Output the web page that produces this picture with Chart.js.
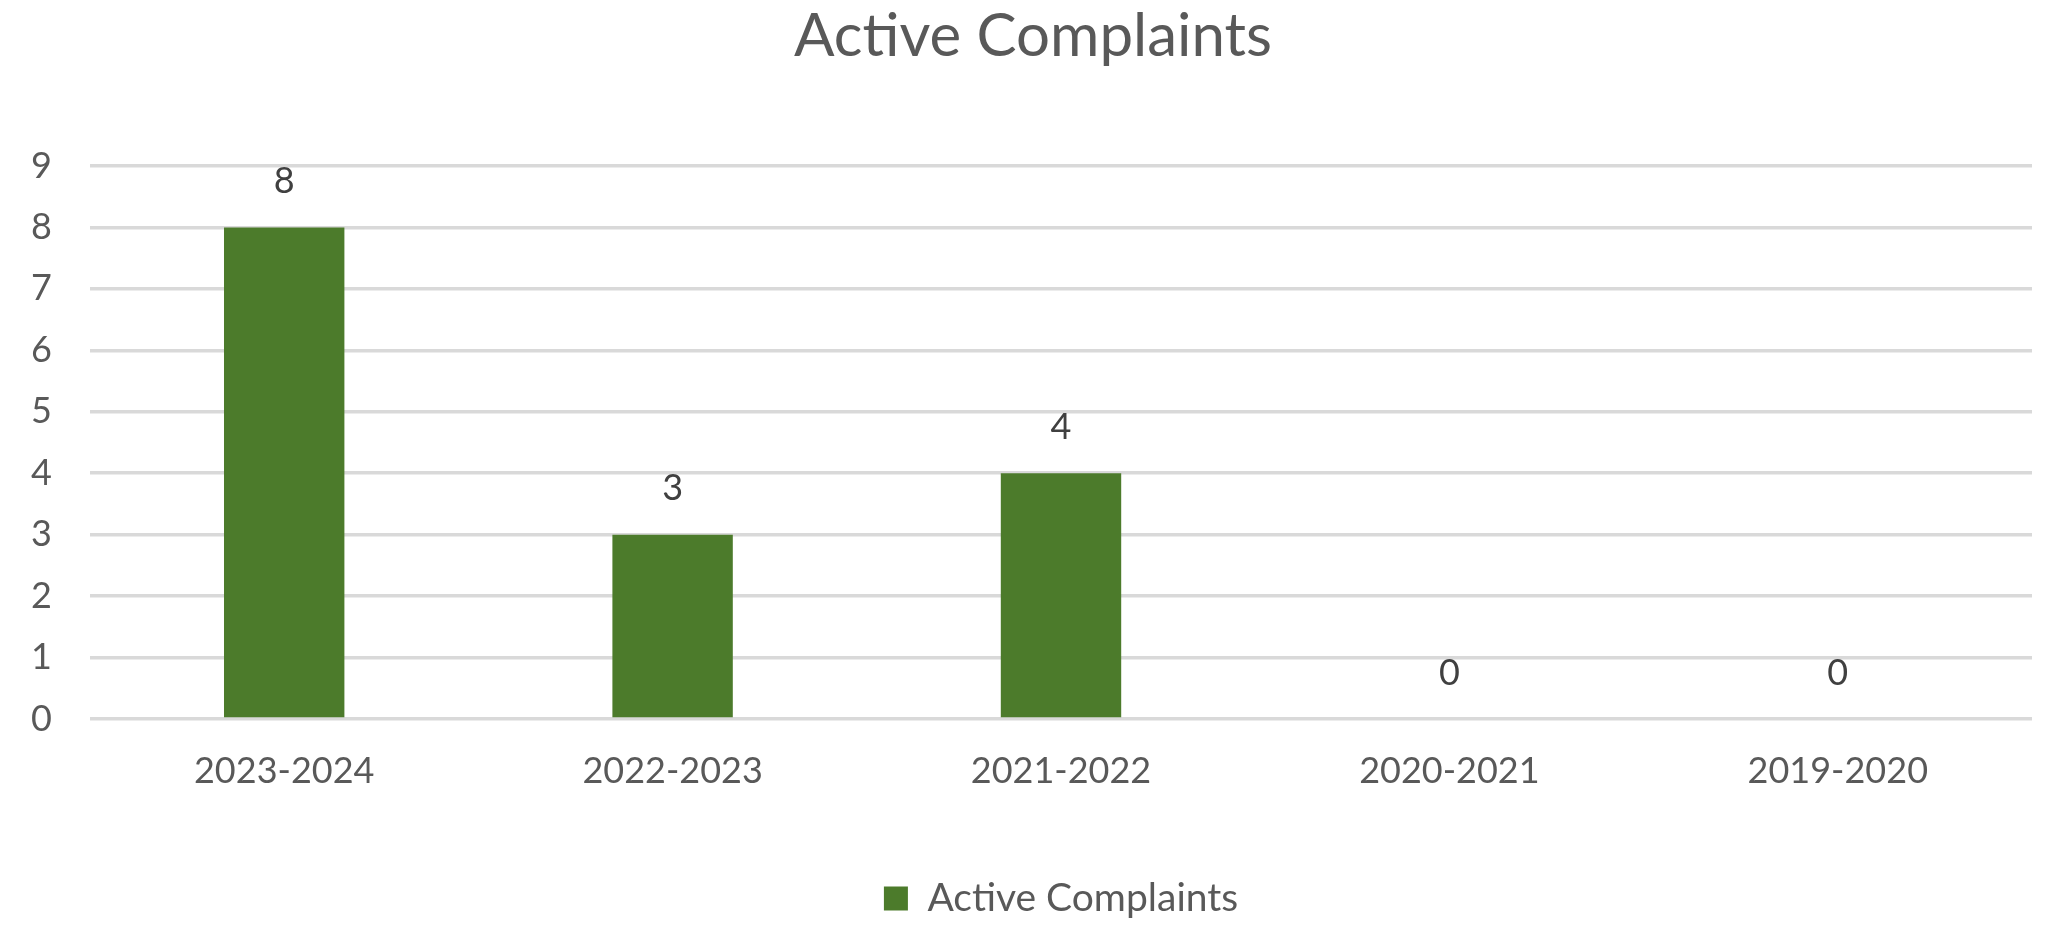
<!DOCTYPE html>
<html>
<head>
<meta charset="utf-8">
<title>Active Complaints</title>
<script src="https://cdn.jsdelivr.net/npm/chart.js@4/dist/chart.umd.min.js"></script>
<style>
    html, body { margin: 0; padding: 0; background: #fff; }
    #wrap { width: 2066px; height: 942px; }
</style>
</head>
<body>
<div id="wrap"><canvas id="complaintsChart" width="2066" height="942"></canvas></div>
<script>
const categories = ['2023-2024', '2022-2023', '2021-2022', '2020-2021', '2019-2020'];
const activeComplaints = [8, 3, 4, 0, 0];
const yTicks = [0, 1, 2, 3, 4, 5, 6, 7, 8, 9];

const textColor = '#595959';
const barColor = '#4C7B2B';
const fontFamily = 'Lato, "Open Sans", sans-serif';

// value labels above each bar, like Excel data labels
const barLabels = {
    id: 'barLabels',
    afterDatasetsDraw(chart) {
        const ctx = chart.ctx;
        const meta = chart.getDatasetMeta(0);
        ctx.save();
        ctx.font = `36px ${fontFamily}`;
        ctx.fillStyle = '#404040';
        ctx.textAlign = 'center';
        ctx.textBaseline = 'middle';
        meta.data.forEach((bar, i) => {
            ctx.fillText(String(activeComplaints[i]), bar.x, bar.y - 46);
        });
        ctx.restore();
    }
};

const ctx = document.getElementById('complaintsChart').getContext('2d');
new Chart(ctx, {
    type: 'bar',
    data: {
        labels: categories,
        datasets: [{
            label: 'Active Complaints',
            data: activeComplaints,
            backgroundColor: barColor,
            borderWidth: 0,
            categoryPercentage: 1,
            barPercentage: 0.31
        }]
    },
    options: {
        responsive: false,
        animation: false,
        devicePixelRatio: 1,
        layout: {
            padding: { top: 0, left: 0, right: 0, bottom: 14 }
        },
        plugins: {
            title: {
                display: true,
                text: 'Active Complaints',
                color: textColor,
                font: { family: fontFamily, size: 60, weight: 'normal' },
                padding: { top: 1, bottom: 93 }
            },
            legend: {
                position: 'bottom',
                fullSize: false,
                labels: {
                    color: textColor,
                    font: { family: fontFamily, size: 39 },
                    boxWidth: 24,
                    boxHeight: 24,
                    padding: 10
                }
            },
            tooltip: { enabled: false }
        },
        scales: {
            x: {
                grid: { display: false, drawTicks: false },
                border: { display: false },
                ticks: {
                    color: textColor,
                    font: { family: fontFamily, size: 36 },
                    padding: 31,
                    maxRotation: 0
                },
                afterFit(scale) { scale.height = 150; }
            },
            y: {
                min: 0,
                max: 9,
                afterBuildTicks(scale) {
                    scale.ticks = yTicks.map(v => ({ value: v }));
                },
                grid: { color: '#d9d9d9', lineWidth: 3.5, drawTicks: false },
                border: { display: false },
                ticks: {
                    color: textColor,
                    font: { family: fontFamily, size: 36 },
                    crossAlign: 'near',
                    padding: 38
                },
                afterFit(scale) { scale.width = 90; }
            },
            // empty right margin so the title stays centred on the whole canvas
            yRight: {
                position: 'right',
                grid: { display: false, drawTicks: false },
                border: { display: false },
                ticks: { display: false },
                afterFit(scale) { scale.width = 34; }
            }
        }
    },
    plugins: [barLabels]
});
</script>
</body>
</html>
